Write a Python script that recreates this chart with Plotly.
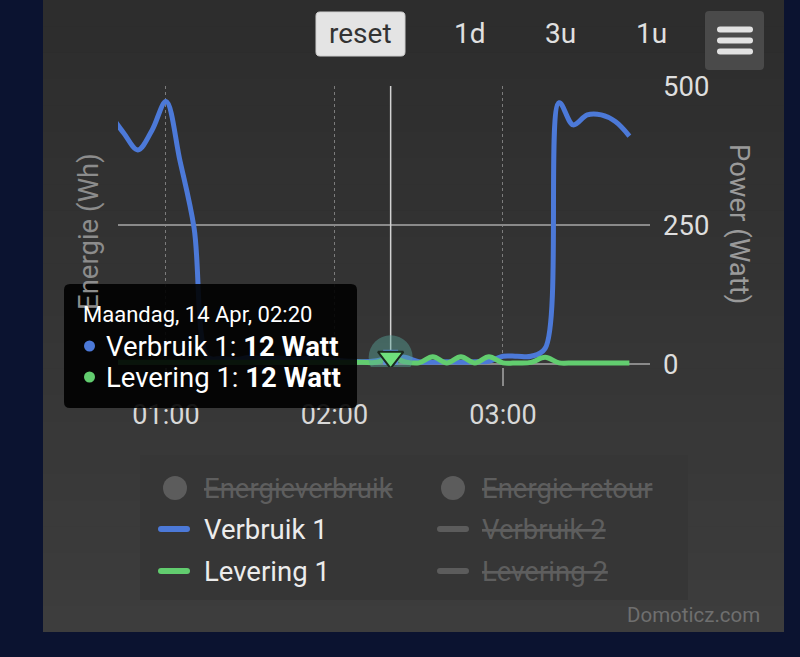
import plotly.graph_objects as go

# ---------------- data ----------------
DATE = "2025-04-14 "
tijden = ["00:40", "00:45", "00:50", "00:55", "01:00", "01:05", "01:10", "01:15",
          "01:20", "01:25", "01:30", "01:35", "01:40", "01:45", "01:50", "01:55",
          "02:00", "02:05", "02:10", "02:15", "02:20", "02:25", "02:30", "02:35",
          "02:40", "02:45", "02:50", "02:55", "03:00", "03:05", "03:10", "03:15",
          "03:20", "03:25", "03:30", "03:35", "03:40", "03:45"]
verbruik_1 = [450, 415, 385, 420, 472, 365, 245, 12,
              10, 8, 12, 9, 11, 8, 10, 9,
              7, 5, 4, 6, 12, 12, 4, 3,
              4, 3, 4, 5, 14, 14, 14, 28,
              470, 430, 448, 448, 436, 410]
levering_1 = [3, 3, 3, 3, 3, 3, 3, 3,
              3, 3, 3, 3, 3, 3, 3, 3,
              3, 3, 3, 3, 12, 4, 2, 13,
              2, 13, 2, 13, 2, 2, 3, 12,
              2, 2, 2, 2, 2, 2]
x_tick_labels = ["01:00", "02:00", "03:00"]
y_tick_values = [0, 250, 500]
hover_tijd = "02:20"
hover_verbruik = 12
hover_levering = 12
tooltip_header = "Maandag, 14 Apr, 02:20"
legend_col1 = ["Energieverbruik", "Verbruik 1", "Levering 1"]
legend_col2 = ["Energie retour", "Verbruik 2", "Levering 2"]
range_buttons = ["1d", "3u", "1u"]

# ---------------- style ----------------
BLUE = "#4c79d8"
GREEN = "#62cd6f"
NAVY = "#0b1330"
FONT = "Roboto"

W, H = 800, 657
PL, PR, PT, PB = 118, 650, 86, 367      # plot area in pixels
Y_ZERO_PX = 364
px_per_unit = (Y_ZERO_PX - PT) / 500.0
y_lo = -(PB - Y_ZERO_PX) / px_per_unit


def X(px):
    return (px - PL) / (PR - PL)


def Y(py):
    return (PB - py) / (PB - PT)


def rrect_path(x0, y0, x1, y1, r):
    """rounded rect path in paper coords from pixel box"""
    pts = [
        ("M", [(x0 + r, y0)]),
        ("L", [(x1 - r, y0)]),
        ("Q", [(x1, y0), (x1, y0 + r)]),
        ("L", [(x1, y1 - r)]),
        ("Q", [(x1, y1), (x1 - r, y1)]),
        ("L", [(x0 + r, y1)]),
        ("Q", [(x0, y1), (x0, y1 - r)]),
        ("L", [(x0, y0 + r)]),
        ("Q", [(x0, y0), (x0 + r, y0)]),
    ]
    s = ""
    for cmd, ps in pts:
        s += cmd + " " + " ".join(f"{X(a):.5f},{Y(b):.5f}" for a, b in ps) + " "
    return s + "Z"


x = [DATE + t for t in tijden]
hx = [DATE + hover_tijd]

fig = go.Figure()
fig.add_trace(go.Scatter(x=x, y=verbruik_1, mode="lines", name="Verbruik 1",
                         line=dict(color=BLUE, width=5, shape="spline", smoothing=1.0)))
fig.add_trace(go.Scatter(x=x, y=levering_1, mode="lines", name="Levering 1",
                         line=dict(color=GREEN, width=5, shape="spline", smoothing=1.0)))
# hover state markers
fig.add_trace(go.Scatter(x=hx, y=[hover_verbruik], mode="markers",
                         marker=dict(size=44, color="rgba(76,121,216,0.25)", line=dict(width=0))))
fig.add_trace(go.Scatter(x=hx, y=[hover_levering], mode="markers",
                         marker=dict(size=44, color="rgba(98,205,111,0.25)", line=dict(width=0))))
fig.add_trace(go.Scatter(x=hx, y=[hover_verbruik], mode="markers",
                         marker=dict(size=15, symbol="square", color="#5b8fd8", line=dict(width=0))))
fig.add_trace(go.Scatter(x=hx, y=[hover_levering], mode="markers",
                         marker=dict(size=22, symbol="triangle-down", color="#6fe07c",
                                     line=dict(width=2, color="#1c2a1f"))))

shapes = []
# panel gradient background
N = 24
for i in range(N):
    c = int(0x2d + (0x3d - 0x2d) * i / (N - 1))
    col = f"#{c:02x}{c:02x}{c:02x}"
    y0 = i * 632 / N
    y1 = (i + 1) * 632 / N + 0.6
    shapes.append(dict(type="rect", xref="paper", yref="paper", layer="below",
                       x0=X(43), x1=X(784), y0=Y(min(y1, 632)), y1=Y(y0),
                       fillcolor=col, line=dict(width=0)))
# legend box
shapes.append(dict(type="rect", xref="paper", yref="paper", layer="below",
                   x0=X(140), x1=X(688), y0=Y(600), y1=Y(455),
                   fillcolor="#363636", line=dict(width=0)))
# crosshair
shapes.append(dict(type="line", xref="x", yref="y", layer="between",
                   x0=hx[0], x1=hx[0], y0=hover_levering, y1=500,
                   line=dict(color="#d2d2d2", width=1.5)))
# reset button
shapes.append(dict(type="path", xref="paper", yref="paper", layer="above",
                   path=rrect_path(316, 12, 405, 56, 4), fillcolor="#e4e4e4",
                   line=dict(color="#cfcfcf", width=1)))
# hamburger button
shapes.append(dict(type="path", xref="paper", yref="paper", layer="above",
                   path=rrect_path(705, 11, 764, 70, 4), fillcolor="#4a4a4a",
                   line=dict(width=0)))
for cy in (29.5, 40.5, 51.5):
    shapes.append(dict(type="path", xref="paper", yref="paper", layer="above",
                       path=rrect_path(717, cy - 3, 753, cy + 3, 3), fillcolor="#e2e2e2",
                       line=dict(width=0)))
# tooltip
shapes.append(dict(type="path", xref="paper", yref="paper", layer="above",
                   path=rrect_path(64, 284, 357, 408, 6), fillcolor="rgba(0,0,0,0.9)",
                   line=dict(width=0)))
for cy, col in ((346, BLUE), (377, GREEN)):
    shapes.append(dict(type="circle", xref="paper", yref="paper", layer="above",
                       x0=X(84), x1=X(95), y0=Y(cy + 5.5), y1=Y(cy - 5.5),
                       fillcolor=col, line=dict(width=0)))
# legend symbols
LEG_ROWS = [488, 529, 571]
GREY_SYM = "#5c5c5c"
for cx in (175, 453):
    shapes.append(dict(type="circle", xref="paper", yref="paper", layer="above",
                       x0=X(cx - 12), x1=X(cx + 12), y0=Y(LEG_ROWS[0] + 12), y1=Y(LEG_ROWS[0] - 12),
                       fillcolor=GREY_SYM, line=dict(width=0)))
for (x0, x1), cols in (((158, 190), (BLUE, GREEN)), ((437, 469), (GREY_SYM, GREY_SYM))):
    for cy, col in zip(LEG_ROWS[1:], cols):
        shapes.append(dict(type="path", xref="paper", yref="paper", layer="above",
                           path=rrect_path(x0, cy - 3, x1, cy + 3, 3), fillcolor=col,
                           line=dict(width=0)))

annotations = []


def ann(text, px, py, size, color, xanchor="left", yanchor="middle", angle=0):
    annotations.append(dict(text=text, x=X(px), y=Y(py), xref="paper", yref="paper",
                            xanchor=xanchor, yanchor=yanchor, showarrow=False,
                            textangle=angle, font=dict(family=FONT, size=size, color=color)))


# range selector
ann("reset", 360.5, 34, 28, "#333333", xanchor="center")
for label, cx in zip(range_buttons, (470, 560, 651)):
    ann(label, cx, 34, 28, "#e0e0e0", xanchor="center")
# axis titles
ann("Power (Watt)", 740, 224, 27.5, "#9a9a9a", xanchor="center", angle=90)
ann("Energie (Wh)", 88, 232, 27.5, "#8c8c8c", xanchor="center", angle=-90)
# tooltip text
ann(tooltip_header, 81, 314, 22, "#ffffff")
ann(f"Verbruik 1: <b>{hover_verbruik} Watt</b>", 104, 346, 27.5, "#ffffff")
ann(f"Levering 1: <b>{hover_levering} Watt</b>", 104, 377, 27.5, "#ffffff")
# legend text
INACT = "#5e5e5e"
ACT = "#ececec"
ann(f"<s>{legend_col1[0]}</s>", 202, LEG_ROWS[0], 27.5, INACT)
ann(legend_col1[1], 202, LEG_ROWS[1], 27.5, ACT)
ann(legend_col1[2], 202, LEG_ROWS[2], 27.5, ACT)
for t, cy in zip(legend_col2, LEG_ROWS):
    ann(f"<s>{t}</s>", 480, cy, 27.5, INACT)
# credits
ann("Domoticz.com", 762, 615, 20.5, "#6f6f6f", xanchor="right")

fig.update_layout(
    width=W, height=H, autosize=False,
    margin=dict(l=PL, r=W - PR, t=PT, b=H - PB, pad=0),
    paper_bgcolor=NAVY, plot_bgcolor="rgba(0,0,0,0)",
    showlegend=False, hovermode=False,
    font=dict(family=FONT, color="#dddddd", size=24),
    xaxis=dict(type="date", range=[DATE + "00:42:55", DATE + "03:52:21"],
               tickvals=[DATE + t for t in x_tick_labels], ticktext=x_tick_labels,
               showgrid=True, gridcolor="#7c7c7c", griddash="dot", gridwidth=1,
               ticks="outside", ticklen=18, tickcolor="#8a8a8a", tickwidth=1.5,
               showline=False, zeroline=False,
               tickfont=dict(family=FONT, size=27, color="#d8d8d8"),
               ticklabelstandoff=6),
    yaxis=dict(range=[y_lo, 500], side="right", tickvals=y_tick_values,
               showgrid=True, gridcolor="#8a8a8a", gridwidth=1.5, zeroline=False,
               ticks="", showline=False,
               tickfont=dict(family=FONT, size=27.5, color="#dedede"),
               ticklabelstandoff=12),
    shapes=shapes, annotations=annotations,
)

fig.write_html("out.html", config={"displayModeBar": False},
               post_script="document.body.style.margin='0';document.body.style.background='%s';" % NAVY)
